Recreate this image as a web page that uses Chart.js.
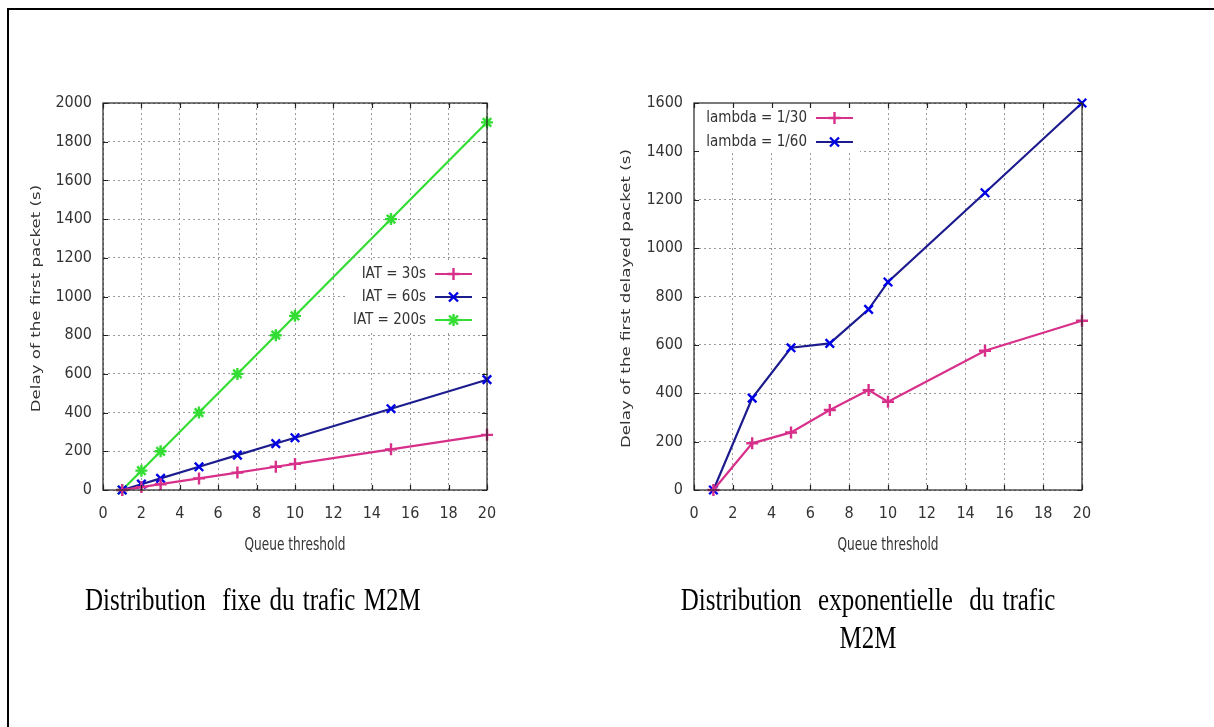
<!DOCTYPE html>
<html>
<head>
<meta charset="utf-8">
<script src="https://cdn.jsdelivr.net/npm/chart.js@4.4.1/dist/chart.umd.min.js"></script>
<style>
  html, body { margin: 0; padding: 0; background: #fff; }
  body { width: 1214px; height: 727px; position: relative; overflow: hidden; }
  canvas { position: absolute; top: 0; }
  #c1 { left: 0; }
  #c2 { left: 600px; }
  .frameTop { position: absolute; left: 7px; top: 8px; width: 1207px; height: 2px; background: #000; }
  .frameLeft { position: absolute; left: 7px; top: 8px; width: 2px; height: 719px; background: #000; }
  .caption { position: absolute; font-family: 'Liberation Serif', 'Times New Roman', serif; font-size: 25px;
             line-height: 30px; color: #000; white-space: pre; word-spacing: 2px;
             transform: scaleY(1.26); transform-origin: 0 0; }
  #cap1 { left: 85px; top: 581px; }
  #cap2 { left: 668px; top: 581px; width: 400px; text-align: center; }
</style>
</head>
<body>
<div class="frameTop"></div>
<div class="frameLeft"></div>
<canvas id="c1" width="540" height="600"></canvas>
<canvas id="c2" width="540" height="600"></canvas>
<div class="caption" id="cap1">Distribution  fixe du trafic M2M</div>
<div class="caption" id="cap2">Distribution  exponentielle  du trafic
M2M</div>
<script>
// ---- Data ----
const thresholdsFixed = [1, 2, 3, 5, 7, 9, 10, 15, 20];
const iat30  = [0, 15, 30, 60, 90, 120, 135, 210, 285];
const iat60  = [0, 30, 60, 120, 180, 240, 270, 420, 570];
const iat200 = [0, 100, 200, 400, 600, 800, 900, 1400, 1900];

const thresholdsExp = [1, 3, 5, 7, 9, 10, 15, 20];
const lambda30 = [0, 193, 238, 331, 413, 365, 576, 700];
const lambda60 = [0, 380, 588, 606, 747, 860, 1229, 1600];

const fixedLabels = ['IAT = 30s', 'IAT = 60s', 'IAT = 200s'];
const expLabels = ['lambda = 1/30', 'lambda = 1/60'];
const xTitle = 'Queue threshold';
const yTitleFixed = 'Delay of the first packet (s)';
const yTitleExp = 'Delay of the first delayed packet (s)';

// ---- Styles ----
const PINK = '#d8308a', NAVY = '#1c1c8e', BLUE = '#0000e6', GREEN = '#33dd33';
const NARROW = "'Liberation Sans Narrow', 'DejaVu Sans Condensed', sans-serif";
const TXT = '#333';

function pts(xs, ys) { return xs.map((x, i) => ({ x: x, y: ys[i] })); }

function drawMarker(ctx, style, x, y, r, color, w) {
  ctx.save();
  ctx.strokeStyle = color; ctx.lineWidth = w;
  ctx.beginPath();
  if (style === 'cross' || style === 'star') {
    ctx.moveTo(x - r, y); ctx.lineTo(x + r, y);
    ctx.moveTo(x, y - r); ctx.lineTo(x, y + r);
  }
  if (style === 'crossRot' || style === 'star') {
    const d = r * 0.75;
    ctx.moveTo(x - d, y - d); ctx.lineTo(x + d, y + d);
    ctx.moveTo(x - d, y + d); ctx.lineTo(x + d, y - d);
  }
  ctx.stroke();
  ctx.restore();
}

const gnuFrame = {
  id: 'gnuFrame',
  beforeDatasetsDraw(chart, args, opts) {
    const ctx = chart.ctx, a = chart.chartArea;
    const b = opts.box;
    const base = opts.legend.fromRight ? a.right : a.left;
    ctx.save();
    ctx.fillStyle = '#fff';
    ctx.fillRect(base + b.x, a.top + b.y, b.w, b.h);
    ctx.restore();
  },
  afterDraw(chart, args, opts) {
    const ctx = chart.ctx, a = chart.chartArea;
    const xs = chart.scales.x, ys = chart.scales.y;
    ctx.save();
    ctx.strokeStyle = '#222';
    ctx.lineWidth = 1.2;
    ctx.strokeRect(a.left, a.top, a.right - a.left, a.bottom - a.top);
    ctx.beginPath();
    const L = 5;
    xs.ticks.forEach(t => {
      const px = Math.round(xs.getPixelForValue(t.value)) + 0.5;
      ctx.moveTo(px, a.bottom); ctx.lineTo(px, a.bottom - L);
      ctx.moveTo(px, a.top); ctx.lineTo(px, a.top + L);
    });
    ys.ticks.forEach(t => {
      const py = Math.round(ys.getPixelForValue(t.value)) + 0.5;
      ctx.moveTo(a.left, py); ctx.lineTo(a.left + L, py);
      ctx.moveTo(a.right, py); ctx.lineTo(a.right - L, py);
    });
    ctx.stroke();
    // y axis title (gnuplot-like, stretched along its length)
    ctx.save();
    ctx.translate(opts.yTitle.x, (a.top + a.bottom) / 2 + 2);
    ctx.rotate(-Math.PI / 2);
    ctx.scale(1.28, 1);
    ctx.font = "13px 'DejaVu Sans', sans-serif";
    ctx.fillStyle = TXT;
    ctx.textAlign = 'center';
    ctx.textBaseline = 'middle';
    ctx.fillText(opts.yTitle.text, 0, 0);
    ctx.restore();
    // x axis title (stretched vertically like the reference)
    ctx.save();
    ctx.translate((a.left + a.right) / 2, a.bottom + 56);
    ctx.scale(1, 1.26);
    ctx.font = '13.5px ' + NARROW;
    ctx.fillStyle = TXT;
    ctx.textAlign = 'center';
    ctx.textBaseline = 'middle';
    ctx.fillText(xTitle, 0, 0);
    ctx.restore();
    // legend
    const lg = opts.legend;
    const base = lg.fromRight ? a.right : a.left;
    ctx.font = '15px ' + NARROW;
    ctx.textAlign = 'right';
    ctx.textBaseline = 'middle';
    chart.data.datasets.forEach((ds, i) => {
      const y = a.top + lg.y0 + i * lg.dy;
      ctx.fillStyle = TXT;
      ctx.fillText(ds.label, base + lg.textX, y);
      const s0 = base + lg.s0, s1 = base + lg.s1;
      ctx.strokeStyle = ds.borderColor; ctx.lineWidth = 2.2;
      ctx.beginPath(); ctx.moveTo(s0, y); ctx.lineTo(s1, y); ctx.stroke();
      drawMarker(ctx, ds.pointStyle, (s0 + s1) / 2, y, ds.pointRadius, ds.pointBorderColor, ds.pointBorderWidth);
    });
    ctx.restore();
  }
};

function makeDs(label, xs, ys, line, mark, style) {
  return {
    label: label, data: pts(xs, ys), borderColor: line, backgroundColor: line,
    borderWidth: 2.2, tension: 0, clip: false,
    pointStyle: style, pointRadius: 6, pointBorderColor: mark, pointBackgroundColor: mark,
    pointBorderWidth: 2.4
  };
}

function makeOpts(yMax, yWidth, pad, frame) {
  const grid = { color: '#9a9a9a', lineWidth: 1, drawTicks: false, borderDash: [2, 3] };
  const border = { display: false, dash: [2, 3] };
  return {
    responsive: false, animation: false, devicePixelRatio: 1,
    layout: { padding: pad },
    plugins: { legend: { display: false }, tooltip: { enabled: false }, gnuFrame: frame },
    scales: {
      x: {
        type: 'linear', min: 0, max: 20,
        afterFit(s) { s.height = 70; },
        border: border, grid: grid,
        ticks: { stepSize: 2, padding: 14, color: TXT, font: { family: NARROW, size: 16 }, maxRotation: 0,
                 callback: v => String(v) },
        title: { display: false }
      },
      y: {
        type: 'linear', min: 0, max: yMax,
        afterFit(s) { s.width = yWidth; },
        border: border, grid: grid,
        ticks: { stepSize: 200, padding: 11, color: TXT, font: { family: NARROW, size: 16 },
                 callback: v => String(v) },
        title: { display: false }
      }
    }
  };
}

new Chart(document.getElementById('c1'), {
  type: 'line',
  data: { datasets: [
    makeDs(fixedLabels[0], thresholdsFixed, iat30, PINK, PINK, 'cross'),
    makeDs(fixedLabels[1], thresholdsFixed, iat60, NAVY, BLUE, 'crossRot'),
    makeDs(fixedLabels[2], thresholdsFixed, iat200, GREEN, GREEN, 'star')
  ]},
  options: makeOpts(2000, 103, { left: 0, right: 53, top: 103, bottom: 40 },
    { box: { x: -140, y: 160, w: 140, h: 70 },
      yTitle: { x: 37, text: yTitleFixed },
      legend: { fromRight: true, y0: 171, dy: 23, textX: -61, s0: -52, s1: -15 } }),
  plugins: [gnuFrame]
});

new Chart(document.getElementById('c2'), {
  type: 'line',
  data: { datasets: [
    makeDs(expLabels[0], thresholdsExp, lambda30, PINK, PINK, 'cross'),
    makeDs(expLabels[1], thresholdsExp, lambda60, NAVY, BLUE, 'crossRot')
  ]},
  options: makeOpts(1600, 94, { left: 0, right: 58, top: 103, bottom: 40 },
    { box: { x: 0, y: 0, w: 166, h: 50 },
      yTitle: { x: 27, text: yTitleExp },
      legend: { fromRight: false, y0: 15, dy: 24, textX: 113, s0: 122, s1: 159 } }),
  plugins: [gnuFrame]
});
</script>
</body>
</html>
